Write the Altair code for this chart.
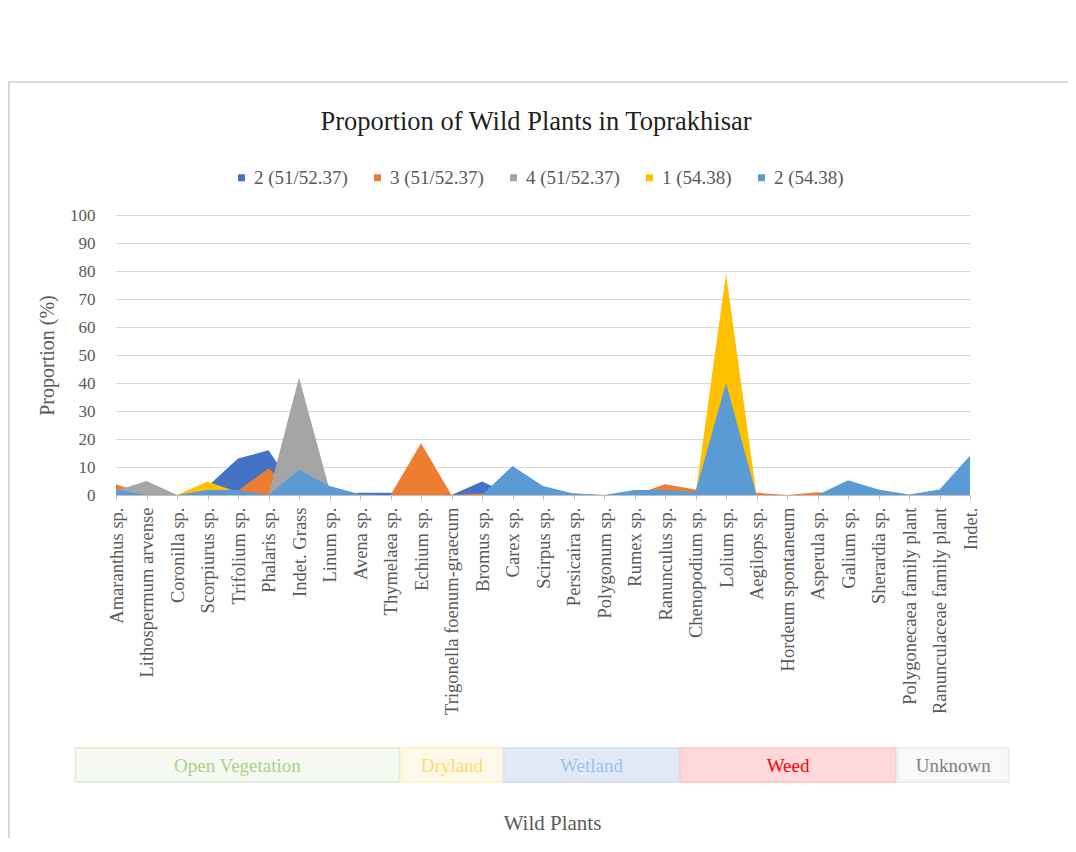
import altair as alt
import pandas as pd

FONT = "Liberation Serif"

plants = [
    "Amaranthus sp.", "Lithospermum arvense", "Coronilla sp.", "Scorpiurus sp.",
    "Trifolium sp.", "Phalaris sp.", "Indet. Grass", "Linum sp.", "Avena sp.",
    "Thymelaea sp.", "Echium sp.", "Trigonella foenum-graecum", "Bromus sp.",
    "Carex sp.", "Scirpus sp.", "Persicaira sp.", "Polygonum sp.", "Rumex sp.",
    "Ranunculus sp.", "Chenopodium sp.", "Lolium sp.", "Aegilops sp.",
    "Hordeum spontaneum", "Asperula sp.", "Galium sp.", "Sherardia sp.",
    "Polygonecaea family plant", "Ranunculaceae family plant", "Indet.",
]

series = ["2 (51/52.37)", "3 (51/52.37)", "4 (51/52.37)", "1 (54.38)", "2 (54.38)"]

s2_51 = [0, 0, 0, 3, 13, 16, 0, 0, 0.8, 0.8, 0, 0, 4.8, 0, 0,
         0, 0, 0, 0, 0, 0, 0, 0, 0, 0, 0, 0, 0, 0]
s3_51 = [3.8, 0, 0, 0, 1.5, 9.5, 0, 0, 0, 0, 18.5, 0, 0.5, 0.3, 0.3,
         0.5, 0, 0, 3.8, 2, 0, 0.8, 0, 1, 0, 0, 0, 0, 0]
s4_51 = [1.5, 5, 0, 0, 0, 0, 42, 2, 0, 0, 0, 0, 0, 0, 0,
         0, 0, 0, 0, 0, 0, 0, 0, 0, 0, 0, 0, 0, 0]
s1_54 = [0, 0, 0, 4.8, 1, 0, 0, 0, 0, 0, 0, 0, 0, 0, 0,
         0, 0, 0, 0, 0, 79, 0, 0, 0, 0, 0, 0, 0, 0]
s2_54 = [2, 0, 0, 1.8, 1.8, 0, 9, 3.2, 0.3, 0, 0, 0, 0, 10.4, 3.2,
         0.5, 0, 1.8, 1.8, 1.2, 40, 0, 0, 0, 5.3, 2, 0.2, 2, 14]

series_values = [s2_51, s3_51, s4_51, s1_54, s2_54]
series_colors = ["#4472C4", "#ED7D31", "#A5A5A5", "#FFC000", "#5B9BD5"]

# habitat groups and their spans along the category axis
groups = ["Open Vegetation", "Dryland", "Wetland", "Weed", "Unknown"]
group_start = [-1.33, 9.36, 12.72, 18.51, 25.63]
group_end = [9.29, 12.67, 18.46, 25.56, 29.27]
group_fill = ["#f5f9f1", "#fff9e9", "#e2e9f6", "#ffd9d9", "#f8f8f8"]
group_stroke = ["#e2f0d9", "#fff2cc", "#dae3f3", "#ffcccc", "#ededed"]
group_text = ["#a9d18e", "#ffd966", "#9dc3e6", "#ff0000", "#7f7f7f"]

rows = []
for s, vals in zip(series, series_values):
    for i, (p, v) in enumerate(zip(plants, vals)):
        rows.append({"series": s, "idx": i, "plant": p, "value": v})
df = pd.DataFrame(rows)

box_df = pd.DataFrame({"group": groups, "start": group_start, "end": group_end})

label_expr = "[" + ",".join("'" + p + "'" for p in plants) + "][datum.value]"

color_scale = alt.Scale(domain=series, range=series_colors)
x_scale = alt.Scale(domain=[0, len(plants) - 1], nice=False, zero=False)


def x_axis():
    return alt.Axis(
        values=list(range(len(plants))),
        labelExpr=label_expr,
        labelAngle=270,
        labelAlign="right",
        labelBaseline="middle",
        labelFont=FONT,
        labelFontSize=18.5,
        labelColor="#595959",
        labelPadding=7,
        labelOverlap=False,
        labelFlush=False,
        labelLimit=400,
        grid=False,
        domainColor="#bfbfbf",
        tickColor="#bfbfbf",
        tickSize=5,
        title="Wild Plants",
        titleFont=FONT,
        titleFontSize=21,
        titleFontWeight="normal",
        titleColor="#595959",
        titleX=436,
        titleY=328,
        titleAlign="center",
        titleBaseline="middle",
    )


y_enc = alt.Y(
    "value:Q",
    stack=None,
    scale=alt.Scale(domain=[0, 100], nice=False),
    axis=alt.Axis(
        values=list(range(0, 101, 10)),
        grid=True,
        gridColor="#d9d9d9",
        gridWidth=1,
        domain=False,
        ticks=False,
        labelFont=FONT,
        labelFontSize=17,
        labelColor="#595959",
        labelPadding=21,
        title="Proportion (%)",
        titleFont=FONT,
        titleFontSize=20,
        titleFontWeight="normal",
        titleColor="#595959",
        titlePadding=12,
    ),
)

legend = alt.Legend(
    title=None,
    orient="none",
    legendX=116,
    legendY=-47,
    direction="horizontal",
    symbolType="square",
    symbolSize=49,
    symbolStrokeWidth=0,
    labelFont=FONT,
    labelFontSize=19,
    labelColor="#595959",
    labelOffset=3,
    columnPadding=20,
    padding=0,
)

base = alt.Chart(df).mark_area(opacity=1, interpolate="linear").encode(
    x=alt.X("idx:Q", scale=x_scale, axis=x_axis()),
    y=y_enc,
    color=alt.Color("series:N", scale=color_scale, legend=legend),
)

areas = alt.layer(*[base.transform_filter(alt.datum.series == s) for s in series])

frame = alt.Chart(alt.Data(values=[{"a": 1}])).mark_rect(
    fill="white", fillOpacity=0, stroke="#d9d9d9", strokeWidth=2
).encode(
    x=alt.value(-107), x2=alt.value(1000), y=alt.value(-133), y2=alt.value(700)
)

boxes = alt.Chart(box_df).mark_rect(strokeWidth=2).encode(
    x=alt.X("start:Q", scale=x_scale, axis=x_axis()),
    x2="end:Q",
    y=alt.value(533),
    y2=alt.value(567),
    fill=alt.Fill("group:N", scale=alt.Scale(domain=groups, range=group_fill), legend=None),
    stroke=alt.Stroke("group:N", scale=alt.Scale(domain=groups, range=group_stroke), legend=None),
)

box_text = alt.Chart(box_df).transform_calculate(
    mid="(datum.start + datum.end) / 2"
).mark_text(font=FONT, fontSize=19, baseline="middle", align="center").encode(
    x=alt.X("mid:Q", scale=x_scale, axis=x_axis()),
    y=alt.value(551),
    text="group:N",
    color=alt.Color("group:N", scale=alt.Scale(domain=groups, range=group_text), legend=None),
)

chart = alt.layer(frame, areas, boxes, box_text).resolve_scale(
    color="independent"
).properties(
    width=854,
    height=280,
    autosize=alt.AutoSizeParams(type="none"),
    padding={"left": 108, "top": 207, "right": 98, "bottom": 343},
    title=alt.TitleParams(
        "Proportion of Wild Plants in Toprakhisar",
        font=FONT,
        fontSize=26.5,
        fontWeight="normal",
        color="#1f1f1f",
        anchor="middle",
        frame="group",
        baseline="alphabetic",
        offset=-75,
        dx=-7,
    ),
).configure_view(stroke=None)

chart.save("out.html", embed_options={"renderer": "svg", "actions": False})
